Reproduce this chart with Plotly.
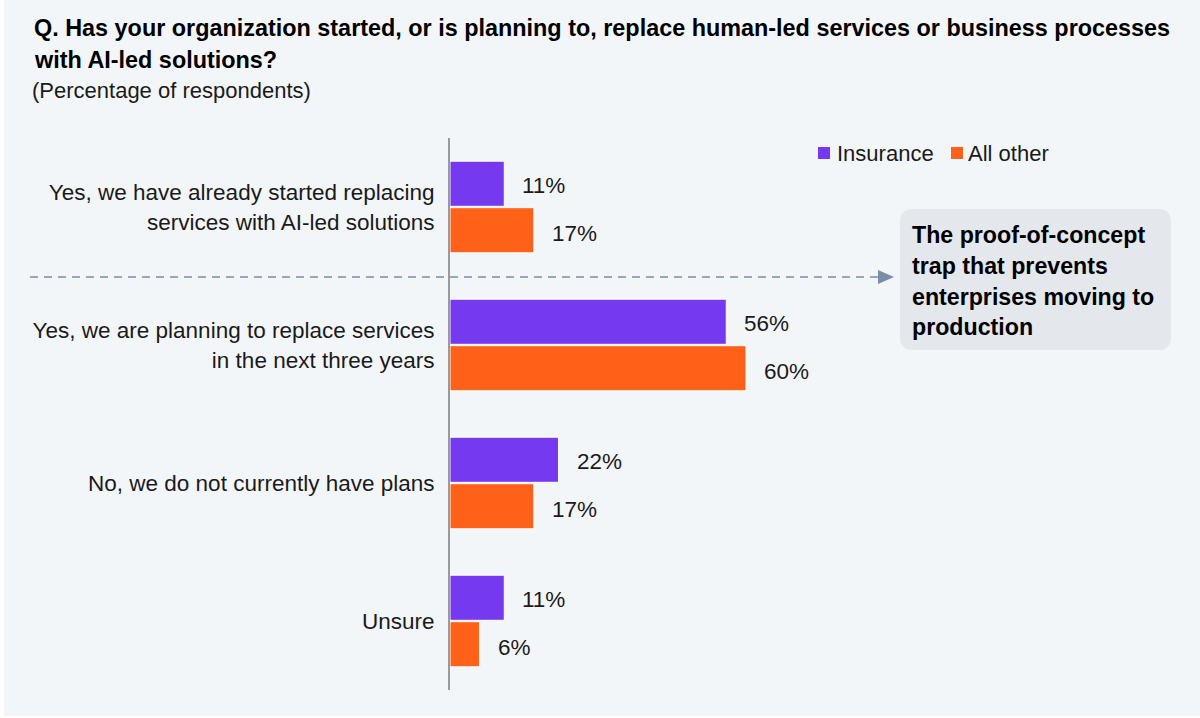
import plotly.graph_objects as go

# ---- data ----
categories = [
    "Yes, we have already started replacing<br>services with AI-led solutions",
    "Yes, we are planning to replace services<br>in the next three years",
    "No, we do not currently have plans",
    "Unsure",
]
insurance = [11, 56, 22, 11]
all_other = [17, 60, 17, 6]
series_names = ["Insurance", "All other"]

title_lines = [
    "Q. Has your organization started, or is planning to, replace human-led services or business processes",
    "with AI-led solutions?",
]
subtitle = "(Percentage of respondents)"
callout_lines = ["The proof-of-concept", "trap that prevents", "enterprises moving to", "production"]

# ---- layout geometry ----
W, H = 1200, 718
L, R, T, B = 450, 10, 138, 28
PW, PH = W - L - R, H - T - B


def px_x(px):
    return (px - L) / PW


def px_y(py):
    return (H - B - py) / PH


PURPLE = "#7539F0"
ORANGE = "#FF6119"
BG = "#F3F6F9"
FONT = "Liberation Sans, Arial, sans-serif"
TXT = "#1a1a1a"
colors = [PURPLE, ORANGE]

fig = go.Figure()
for name, vals, col in [(series_names[0], insurance, PURPLE), (series_names[1], all_other, ORANGE)]:
    fig.add_trace(go.Bar(
        name=name, y=categories, x=vals, orientation="h",
        marker=dict(color=col, line=dict(color="white", width=1)),
        hoverinfo="skip", showlegend=False,
    ))

annotations = []
# value labels
for vals, shift in [(insurance, 22), (all_other, -26)]:
    for c, v in zip(categories, vals):
        annotations.append(dict(
            x=v, y=c, xref="x", yref="y", text=f"{v}%", showarrow=False,
            xanchor="left", yanchor="middle", xshift=16, yshift=shift,
            font=dict(size=22.5, color=TXT, family=FONT),
        ))

# title
for line, py in zip(title_lines, [28, 60]):
    annotations.append(dict(
        x=px_x(32), y=px_y(py), xref="paper", yref="paper", text=f"<b>{line}</b>",
        showarrow=False, xanchor="left", yanchor="middle",
        font=dict(size=23.4, color="#000000", family=FONT),
    ))
annotations.append(dict(
    x=px_x(30), y=px_y(90), xref="paper", yref="paper", text=subtitle,
    showarrow=False, xanchor="left", yanchor="middle",
    font=dict(size=22, color=TXT, family=FONT),
))

# callout text
for line, py in zip(callout_lines, [235, 266, 297, 327]):
    annotations.append(dict(
        x=px_x(910), y=px_y(py), xref="paper", yref="paper", text=f"<b>{line}</b>",
        showarrow=False, xanchor="left", yanchor="middle",
        font=dict(size=23.2, color="#000000", family=FONT),
    ))

# manual legend (square + label)
legend_items = [(818, 835), (951, 966)]
shapes = []
for (sq_x, tx_x), name, col in zip(legend_items, series_names, colors):
    shapes.append(dict(type="rect", xref="paper", yref="paper",
                       x0=px_x(sq_x), x1=px_x(sq_x + 12), y0=px_y(159), y1=px_y(147),
                       fillcolor=col, line=dict(width=0)))
    annotations.append(dict(
        x=px_x(tx_x), y=px_y(153), xref="paper", yref="paper", text=name,
        showarrow=False, xanchor="left", yanchor="middle",
        font=dict(size=22, color=TXT, family=FONT),
    ))

# callout box
x0, x1 = px_x(900), px_x(1171)
yt, yb = px_y(209), px_y(350)
rx, ry = 13 / PW, 13 / PH
box_path = (
    f"M {x0+rx} {yt} L {x1-rx} {yt} Q {x1} {yt} {x1} {yt-ry} "
    f"L {x1} {yb+ry} Q {x1} {yb} {x1-rx} {yb} "
    f"L {x0+rx} {yb} Q {x0} {yb} {x0} {yb+ry} "
    f"L {x0} {yt-ry} Q {x0} {yt} {x0+rx} {yt} Z"
)
LINE_COL = "#7A8CA6"
shapes += [
    dict(type="path", xref="paper", yref="paper", path=box_path,
         fillcolor="#E4E8ED", line=dict(width=0), layer="below"),
    dict(type="line", xref="paper", yref="paper",
         x0=px_x(30), x1=px_x(880), y0=px_y(277), y1=px_y(277),
         line=dict(color=LINE_COL, width=1.5, dash="8px,6px")),
    dict(type="path", xref="paper", yref="paper",
         path=f"M {px_x(878)} {px_y(270)} L {px_x(894)} {px_y(277)} L {px_x(878)} {px_y(284)} Z",
         fillcolor=LINE_COL, line=dict(width=0)),
    # thin white frame strips at the left and bottom edges
    dict(type="rect", xref="paper", yref="paper",
         x0=px_x(0), x1=px_x(4), y0=px_y(718), y1=px_y(0),
         fillcolor="white", line=dict(width=0)),
    dict(type="rect", xref="paper", yref="paper",
         x0=px_x(0), x1=px_x(1200), y0=px_y(718), y1=px_y(716),
         fillcolor="white", line=dict(width=0)),
]

fig.update_layout(
    width=W, height=H,
    margin=dict(l=L, r=R, t=T, b=B, pad=0),
    paper_bgcolor=BG, plot_bgcolor=BG,
    barmode="group", bargap=0.326, bargroupgap=0.03,
    font=dict(family=FONT, size=22.5, color=TXT),
    showlegend=False,
    xaxis=dict(range=[0, 150], showgrid=False, zeroline=False, showticklabels=False,
               showline=False, fixedrange=True),
    yaxis=dict(autorange="reversed", showgrid=False, zeroline=False, showline=True,
               linecolor="#9A9A9A", linewidth=2, ticks="", ticklabelstandoff=9,
               tickfont=dict(size=22.5, color=TXT, family=FONT), fixedrange=True),
    annotations=annotations,
    shapes=shapes,
)

fig.write_html("out.html", config={"displayModeBar": False},
               post_script="document.body.style.margin='0px';document.body.style.overflow='hidden';")
